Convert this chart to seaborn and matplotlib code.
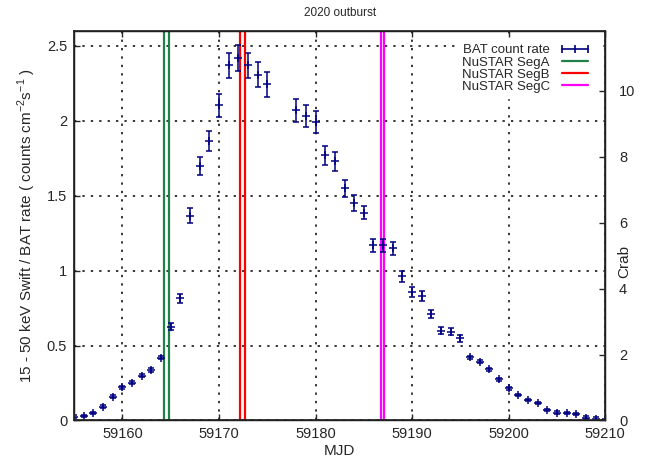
import numpy as np
import seaborn as sns
import matplotlib.pyplot as plt
from matplotlib.lines import Line2D
from matplotlib.ticker import ScalarFormatter

# BAT daily light curve (MJD, rate, error)
mjd = [59155, 59156, 59157, 59158, 59159, 59160, 59161, 59162, 59163, 59164,
       59165, 59166, 59167, 59168, 59169, 59170, 59171, 59172, 59173, 59174,
       59175, 59178, 59179, 59180, 59181, 59182, 59183, 59184, 59185, 59186,
       59187, 59188, 59189, 59190, 59191, 59192, 59193, 59194, 59195, 59196,
       59197, 59198, 59199, 59200, 59201, 59202, 59203, 59204, 59205, 59206,
       59207, 59208, 59209, 59210]
rate = [0.025, 0.03, 0.048, 0.092, 0.159, 0.221, 0.252, 0.299, 0.337, 0.419,
        0.625, 0.815, 1.365, 1.699, 1.865, 2.103, 2.37, 2.421, 2.37, 2.308,
        2.243, 2.07, 2.032, 1.992, 1.77, 1.73, 1.55, 1.45, 1.387, 1.17,
        1.17, 1.15, 0.963, 0.859, 0.83, 0.71, 0.599, 0.592, 0.548, 0.421,
        0.392, 0.341, 0.275, 0.215, 0.17, 0.137, 0.115, 0.07, 0.052, 0.048,
        0.041, 0.019, 0.012, 0.003]
err = [0.008, 0.008, 0.008, 0.008, 0.008, 0.01, 0.01, 0.01, 0.012, 0.012,
       0.022, 0.028, 0.05, 0.059, 0.068, 0.078, 0.083, 0.087, 0.084, 0.083,
       0.083, 0.076, 0.074, 0.075, 0.063, 0.063, 0.058, 0.052, 0.045, 0.044,
       0.044, 0.044, 0.037, 0.033, 0.032, 0.025, 0.022, 0.022, 0.022, 0.012,
       0.012, 0.012, 0.01, 0.01, 0.008, 0.008, 0.008, 0.008, 0.008, 0.008,
       0.008, 0.008, 0.008, 0.008]

# NuSTAR segments (start, end)
seg_names = ['NuSTAR SegA', 'NuSTAR SegB', 'NuSTAR SegC']
seg_start = [59164.33, 59172.2, 59186.78]
seg_end = [59164.78, 59172.72, 59187.12]
seg_colors = ['#1f8048', '#ff0000', '#ff00ff']

crab = 0.22

sns.set_theme(style='white')
plt.rcParams['font.family'] = ['Liberation Sans', 'DejaVu Sans']

fig, ax = plt.subplots(figsize=(6.68, 4.61), dpi=100)
fig.subplots_adjust(left=0.111, right=0.906, top=0.933, bottom=0.088)

for s, e, c in zip(seg_start, seg_end, seg_colors):
    ax.axvline(s, color=c, lw=1.6, zorder=2)
    ax.axvline(e, color=c, lw=1.6, zorder=2)

ax.errorbar(mjd, rate, yerr=err, fmt='none', ecolor='navy', elinewidth=1.1,
            capsize=2.3, capthick=1.1, zorder=3)
sns.scatterplot(x=mjd, y=rate, marker='+', color='navy', s=26, linewidth=1.1,
                ax=ax, zorder=4)

ax.set_xlim(59155, 59210)
ax.set_ylim(0, 2.6)
ax.set_xticks(np.arange(59160, 59211, 10))
ax.set_yticks([0, 0.5, 1, 1.5, 2, 2.5])
ax.set_yticklabels(['0', '0.5', '1', '1.5', '2', '2.5'])
ax.xaxis.set_major_formatter(ScalarFormatter(useOffset=False))
ax.grid(True, color='black', linestyle=(0, (1.5, 4)), linewidth=1.1)
ax.set_axisbelow(True)
ax.tick_params(direction='in', length=4, width=1, labelsize=10.5,
               top=True, bottom=True, left=True, right=False, pad=5)
for sp in ax.spines.values():
    sp.set_color('black')
    sp.set_linewidth(1)

ax.set_xlabel('MJD', fontsize=11, labelpad=2)
ax.set_ylabel('15 - 50 keV Swift / BAT rate ( counts cm$^{\\mathregular{-2}}$s$^{\\mathregular{-1}}$ )',
              fontsize=11, labelpad=6)
ax.set_title('2020 outburst', fontsize=8.5, pad=11)

ax2 = ax.twinx()
ax2.set_ylim(0, 2.6 / crab)
ax2.set_yticks([0, 2, 4, 6, 8, 10])
ax2.tick_params(direction='in', length=4, width=1, labelsize=10.5, pad=10)
ax2.set_ylabel('Crab', fontsize=11)
ax2.yaxis.set_label_coords(1.022, 0.407)
ax2.grid(False)

handles = [Line2D([], [], color='navy', lw=1.2, marker='|', markersize=6,
                  markeredgewidth=1.2)]
for c in seg_colors:
    handles.append(Line2D([], [], color=c, lw=1.6))
leg = ax.legend(handles, ['BAT count rate'] + seg_names, loc='upper right',
                markerfirst=False, numpoints=3, fontsize=9.5, frameon=True,
                fancybox=False, framealpha=1, edgecolor='white',
                facecolor='white', borderaxespad=0.6, handlelength=2.6,
                labelspacing=0.0, borderpad=0.4, handletextpad=0.6)
for t in leg.get_texts():
    t.set_ha('right')
leg.set_zorder(5)

fig.savefig('out.png', dpi=100)
